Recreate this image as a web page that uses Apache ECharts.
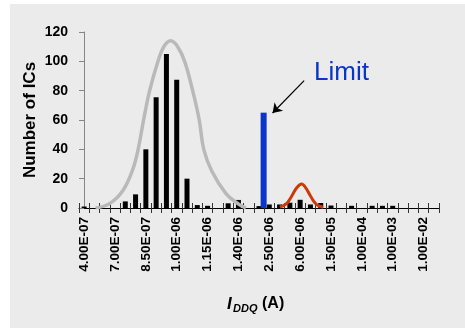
<!DOCTYPE html>
<html><head><meta charset="utf-8">
<script src="https://cdn.jsdelivr.net/npm/echarts@6/dist/echarts.min.js"></script>
<style>
html,body{margin:0;padding:0;background:#fff;}
#bg{position:absolute;left:10px;top:4px;width:455px;height:324px;background:#ebebeb;}
#c{position:absolute;left:0;top:0;width:465px;height:328px;}
</style>
</head><body><div id="bg"></div><div id="c"></div>
<script>
const categories = ['4.00E-07','5.00E-07','6.00E-07','7.00E-07','7.50E-07','8.00E-07','8.50E-07','9.00E-07','9.50E-07','1.00E-06','1.05E-06','1.10E-06','1.15E-06','1.20E-06','1.30E-06','1.40E-06','1.60E-06','2.00E-06','2.50E-06','3.00E-06','4.00E-06','6.00E-06','8.00E-06','1.00E-05','1.50E-05','3.00E-05','6.00E-05','1.00E-04','3.00E-04','6.00E-04','1.00E-03','3.00E-03','6.00E-03','1.00E-02','1.00E-01'];
const counts = [1,0,0,0,4.5,9.3,40,75.5,105,87.5,20,2,1.5,0,3.2,5.5,0,1.3,2.4,2.4,3.6,5.6,2.4,3.4,1.7,0,1.5,0,1.5,1.5,1.5,0,0,0,0];
const limitBar = [[17.45, 65]];
const normalFit = [[1.11,0],[2.47,3],[3.77,12],[4.71,26],[5.25,40],[5.78,60],[6.37,80],[7.18,100],[7.75,110],[8.41,114],[9.09,110],[9.77,100],[10.55,80],[11.19,60],[11.63,40],[12.42,25],[13.77,10],[14.94,3],[15.72,0]];
const faultyFit = [[19.03,0.7],[19.68,3],[20.17,8],[20.65,13.6],[21.14,16.4],[21.56,13.6],[22.02,8],[22.6,2.3],[23.24,0.5]];
const yMin = 0, yMax = 120, yStep = 20;
const arrowFrom = [21.39, 86.8], arrowTo = [18.32, 64.8];

const F = 'Arial, "Liberation Sans", sans-serif';
const chart = echarts.init(document.getElementById('c'), null, {renderer:'canvas'});
chart.setOption({
  animation: false,
  backgroundColor: 'transparent',
  grid: {left: 79, right: 26, top: 32, bottom: 120, containLabel: false},
  xAxis: [
    {type:'category', data: categories, position:'bottom',
     axisLine:{show:true, lineStyle:{color:'#000', width:1}},
     axisTick:{show:true, interval:0, length:5, inside:false, lineStyle:{color:'#333'}},
     axisLabel:{interval:2, rotate:90, margin:9, color:'#000', fontSize:13.5, fontWeight:'bold', fontFamily:F},
     splitLine:{show:false}},
    {type:'category', data: categories, position:'bottom',
     axisLine:{show:false},
     axisTick:{show:true, interval:0, length:5, inside:true, lineStyle:{color:'#333'}},
     axisLabel:{show:false}, splitLine:{show:false}},
    {type:'value', min:-0.5, max:categories.length-0.5, show:false}
  ],
  yAxis: [
    {type:'value', min:yMin, max:yMax, interval:yStep, position:'left',
     axisLine:{show:true, lineStyle:{color:'#868686', width:1}},
     axisTick:{show:true, length:4, inside:false, lineStyle:{color:'#868686'}},
     axisLabel:{margin:11, color:'#000', fontSize:14, fontWeight:'bold', fontFamily:F},
     splitLine:{show:false},
     name:'Number of ICs', nameLocation:'middle', nameRotate:90, nameGap:40, nameMoveOverlap:false,
     nameTextStyle:{color:'#000', fontSize:17, fontWeight:'bold', fontFamily:F}},
    {type:'value', min:yMin, max:yMax, interval:yStep, position:'left',
     axisLine:{show:false},
     axisTick:{show:true, length:5, inside:true, lineStyle:{color:'#868686'}},
     axisLabel:{show:false}, splitLine:{show:false}}
  ],
  series: [
    {type:'bar', xAxisIndex:0, yAxisIndex:0, data: counts, barWidth:5,
     itemStyle:{color:'#000'}},
    {type:'bar', xAxisIndex:2, yAxisIndex:0, data: limitBar, barWidth:6,
     itemStyle:{color:'#0a35c8'},
     markLine:{silent:true, symbol:['none','arrow'], symbolSize:9,
       label:{show:false}, lineStyle:{color:'#000', width:1.2, type:'solid'},
       data:[[{coord: arrowFrom}, {coord: arrowTo}]]}},
    {type:'line', xAxisIndex:2, yAxisIndex:0, data: normalFit, smooth:0.4,
     showSymbol:false, symbol:'none', lineStyle:{color:'#b9b9b9', width:3.5}},
    {type:'line', xAxisIndex:2, yAxisIndex:0, data: faultyFit, smooth:0.4,
     showSymbol:false, symbol:'none', lineStyle:{color:'#cc3a0a', width:3}}
  ],
  graphic: [
    {type:'text', left:314, top:60, style:{text:'Limit', fill:'#0a35c8', font:'26px ' + F}},
    {type:'text', left:227, top:296, style:{text:'I', fill:'#000', font:'italic bold 17px ' + F}},
    {type:'text', left:233, top:303, style:{text:'DDQ', fill:'#000', font:'italic bold 11px ' + F}},
    {type:'text', left:262, top:296, style:{text:'(A)', fill:'#000', font:'bold 16px ' + F}}
  ]
});
</script>
</body></html>
